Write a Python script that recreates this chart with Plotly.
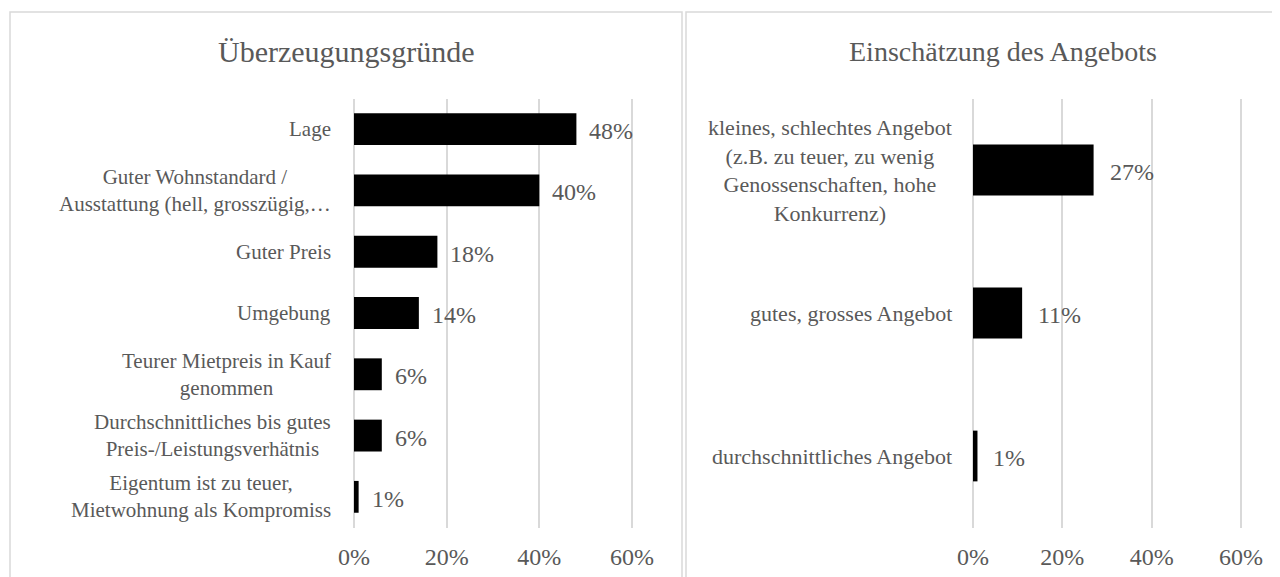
import plotly.graph_objects as go

# ---------------- data ----------------
left_title = "Überzeugungsgründe"
left_categories = [
    "Lage",
    "Guter Wohnstandard /\nAusstattung (hell, grosszügig,…",
    "Guter Preis",
    "Umgebung",
    "Teurer Mietpreis in Kauf\ngenommen",
    "Durchschnittliches bis gutes\nPreis-/Leistungsverhätnis",
    "Eigentum ist zu teuer,\nMietwohnung als Kompromiss",
]
left_values = [48, 40, 18, 14, 6, 6, 1]

right_title = "Einschätzung des Angebots"
right_categories = [
    "kleines, schlechtes Angebot\n(z.B. zu teuer, zu wenig\nGenossenschaften, hohe\nKonkurrenz)",
    "gutes, grosses Angebot",
    "durchschnittliches Angebot",
]
right_values = [27, 11, 1]

tick_values = [0, 20, 40, 60]
tick_labels = ["0%", "20%", "40%", "60%"]

# ---------------- layout helpers ----------------
W, H = 1280, 577
OFF = 8  # page body margin
FONT = "Liberation Serif"
TXT = "#595959"
GRID = "#d9d9d9"


def px(x):
    return (x - OFF) / W


def py(y):
    return 1 - (y - OFF) / H


XMAX = 61
left_x0, left_per = 354, (632 - 354) / 60
right_x0, right_per = 973, (1241 - 973) / 60
plot_top, plot_bottom = 98.5, 527.5

fig = go.Figure()

fig.add_trace(go.Bar(
    x=left_values, y=left_categories, orientation="h",
    marker=dict(color="#000000", line=dict(width=0)),
    width=0.52, xaxis="x", yaxis="y", hoverinfo="x+y", showlegend=False,
))
fig.add_trace(go.Bar(
    x=right_values, y=right_categories, orientation="h",
    marker=dict(color="#000000", line=dict(width=0)),
    width=0.355, xaxis="x2", yaxis="y2", hoverinfo="x+y", showlegend=False,
))

xaxis_common = dict(
    range=[0, XMAX], tickvals=tick_values, ticktext=tick_labels,
    showgrid=True, gridcolor=GRID, gridwidth=1.5,
    zeroline=True, zerolinecolor=GRID, zerolinewidth=1.5,
    showline=False, ticks="", ticklabelstandoff=12,
    tickfont=dict(family=FONT, size=24, color=TXT), fixedrange=True,
    automargin=False,
)
yaxis_common = dict(
    showgrid=False, zeroline=False, showline=False, showticklabels=False,
    ticks="", domain=[py(plot_bottom), py(plot_top)], fixedrange=True,
    automargin=False,
)

fig.update_layout(
    width=W, height=H,
    margin=dict(l=0, r=0, t=0, b=0, pad=0, autoexpand=False),
    paper_bgcolor="white", plot_bgcolor="white",
    font=dict(family=FONT, color=TXT),
    xaxis=dict(domain=[px(left_x0), px(left_x0 + XMAX * left_per)], anchor="y", **xaxis_common),
    yaxis=dict(anchor="x", categoryorder="array", categoryarray=left_categories,
               autorange="reversed", **yaxis_common),
    xaxis2=dict(domain=[px(right_x0), px(right_x0 + XMAX * right_per)], anchor="y2", **xaxis_common),
    yaxis2=dict(anchor="x2", categoryorder="array", categoryarray=right_categories,
                autorange="reversed", **yaxis_common),
)

annotations = []
# titles
annotations.append(dict(text=left_title, x=px(346), y=py(51), xref="paper", yref="paper",
                        xanchor="center", yanchor="middle", showarrow=False,
                        font=dict(family=FONT, size=30, color=TXT)))
annotations.append(dict(text=right_title, x=px(1003), y=py(51), xref="paper", yref="paper",
                        xanchor="center", yanchor="middle", showarrow=False,
                        font=dict(family=FONT, size=28, color=TXT)))

# category labels
for cat in left_categories:
    annotations.append(dict(text=cat.replace("\n", "<br>"), x=px(333), y=cat, xref="paper", yref="y",
                            xanchor="right", yanchor="middle", align="center", showarrow=False,
                            font=dict(family=FONT, size=21, color=TXT)))
for cat in right_categories:
    annotations.append(dict(text=cat.replace("\n", "<br>"), x=px(954), y=cat, xref="paper", yref="y2",
                            xanchor="right", yanchor="middle", align="center", showarrow=False,
                            font=dict(family=FONT, size=22, color=TXT)))

# data labels
for cat, v in zip(left_categories, left_values):
    annotations.append(dict(text=f"{v}%", x=v, y=cat, xref="x", yref="y",
                            xanchor="left", yanchor="middle", xshift=11, yshift=-2, showarrow=False,
                            font=dict(family=FONT, size=24, color=TXT)))
for cat, v in zip(right_categories, right_values):
    annotations.append(dict(text=f"{v}%", x=v, y=cat, xref="x2", yref="y2",
                            xanchor="left", yanchor="middle", xshift=14, yshift=-2, showarrow=False,
                            font=dict(family=FONT, size=24, color=TXT)))

fig.update_layout(annotations=annotations)

# panel borders (bottom/right edges fall outside the view, as in the reference)
fig.add_shape(type="rect", xref="paper", yref="paper",
              x0=px(10), x1=px(682), y0=-0.02, y1=py(12),
              line=dict(color=GRID, width=1.5), fillcolor="rgba(0,0,0,0)", layer="below")
fig.add_shape(type="rect", xref="paper", yref="paper",
              x0=px(686), x1=1.02, y0=-0.02, y1=py(12),
              line=dict(color=GRID, width=1.5), fillcolor="rgba(0,0,0,0)", layer="below")

fig.write_html("out.html", config=dict(displayModeBar=False))
